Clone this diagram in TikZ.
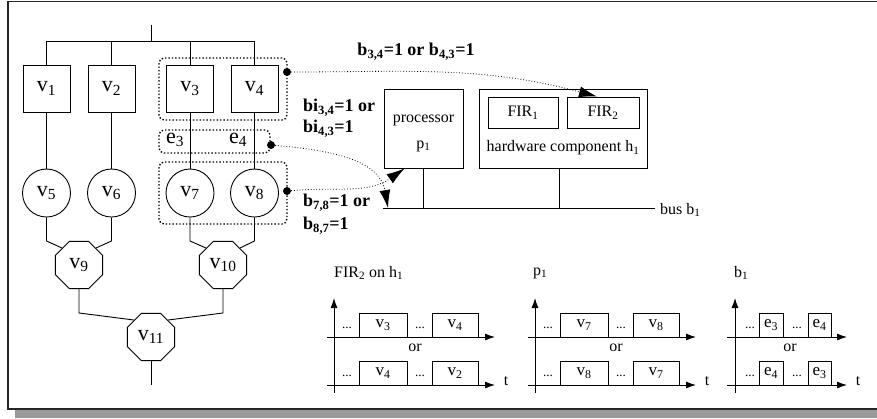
\documentclass[tikz,border=0pt]{standalone}
\usepackage{fontspec}
\setmainfont{Liberation Serif}
\usetikzlibrary{shapes.geometric,arrows.meta,calc}
\tikzset{
  tline/.style={line width=0.9pt},
  vfont/.style={font=\fontsize{22}{24}\selectfont},
  vbox/.style={draw, tline, vfont, minimum width=47pt, minimum height=47pt, inner sep=0pt},
  vcirc/.style={draw, tline, vfont, circle, minimum size=48pt, inner sep=0pt},
  voct/.style={draw, tline, vfont, regular polygon, regular polygon sides=8, minimum size=51pt, inner sep=0pt},
  grp/.style={draw, dotted, line width=1.4pt, rounded corners=5pt, inner sep=0pt},
  dotm/.style={circle, fill=black, inner sep=0pt, minimum size=8pt},
  darr/.style={dotted, line width=0.8pt, -{Latex[length=18pt,width=11pt]}},
  hwbox/.style={draw, tline, inner sep=0pt, font=\fontsize{16}{18}\selectfont},
  lbl/.style={font=\fontsize{18}{21}\selectfont\bfseries, align=left, inner sep=0pt},
  txt/.style={font=\fontsize{16}{18}\selectfont, inner sep=0pt},
  gbox/.style={draw, tline, inner sep=0pt, minimum height=24pt, font=\fontsize{17}{18}\selectfont},
  gdots/.style={font=\fontsize{13}{14}\selectfont, inner sep=0pt},
  gaxis/.style={tline, -{Latex[length=10pt,width=7pt]}},
}
\newcommand\sbs[1]{\textsubscript{#1}}
\begin{document}
\begin{tikzpicture}[x=1pt,y=-1pt]
\useasboundingbox (0,0) rectangle (877,418);
% frame with shadow
\fill[black!40] (15,410) rectangle (877,418);
\draw[line width=1.3pt, black!85] (877,1.5) -- (8,1.5) -- (8,409) -- (877,409);

% task graph
\coordinate (top) at (151,25);
\coordinate (topj) at (151,41);
\node[vbox] (v1) at (46.5,88.5) {v\sbs{1}};
\node[vbox] (v2) at (111.5,88.5) {v\sbs{2}};
\node[vbox] (v3) at (190,88.5) {v\sbs{3}};
\node[vbox] (v4) at (254.5,88.5) {v\sbs{4}};
\node[vcirc] (v5) at (46.5,193) {v\sbs{5}};
\node[vcirc] (v6) at (111.5,193) {v\sbs{6}};
\node[vcirc] (v7) at (190,193) {v\sbs{7}};
\node[vcirc] (v8) at (254.5,193) {v\sbs{8}};
\node[voct] (v9) at (79,265) {v\sbs{9}};
\node[voct] (v10) at (223,265) {v\sbs{10}};
\node[voct] (v11) at (151,337) {v\sbs{11}};
\coordinate (bot) at (151,385);

\draw[tline] (top) -- (topj);
\draw[tline] (v1.north) -- (v1.north |- topj) -- (v4.north |- topj) -- (v4.north);
\draw[tline] (v2.north) -- (v2.north |- topj);
\draw[tline] (v3.north) -- (v3.north |- topj);
\draw[tline] (v1) -- (v5);
\draw[tline] (v2) -- (v6);
\draw[tline] (v3) -- (v7);
\draw[tline] (v4) -- (v8);
\draw[tline] (v5.south) -- (v5.south |- v9.north) -- (v9.135);
\draw[tline] (v6.south) -- (v6.south |- v9.north) -- (v9.45);
\draw[tline] (v7.south) -- (v7.south |- v10.north) -- (v10.135);
\draw[tline] (v8.south) -- (v8.south |- v10.north) -- (v10.45);
\draw[tline] (v9.south) -- (v9.south |- v11.north) -- (v11.135);
\draw[tline] (v10.south) -- (v10.south |- v11.north) -- (v11.45);
\draw[tline] (v11) -- (bot);

% dotted groups
\node[grp, minimum width=128pt, minimum height=62pt] (g1) at (223,89) {};
\node[grp, minimum width=111pt, minimum height=23pt] (ge) at (214.5,141.5) {};
\node[grp, minimum width=128pt, minimum height=62pt] (g2) at (223,193) {};
\node[vfont, inner sep=0pt] (e3) at (175,140) {e\sbs{3}};
\node[vfont, inner sep=0pt] (e4) at (238,140) {e\sbs{4}};
\node[dotm] (d1) at (287,72) {};
\node[dotm] (d2) at (271,145) {};
\node[dotm] (d3) at (287,191) {};

% architecture
\node[hwbox, minimum width=79pt, minimum height=79pt] (proc) at (423.5,128.5) {};
\node[txt] (proctxt) at (423.5,120) {processor};
\node[txt] (p1txt) at (423.5,146) {p\sbs{1}};
\node[hwbox, minimum width=168pt, minimum height=79pt] (hw) at (563,128.5) {};
\node[hwbox, minimum width=70pt, minimum height=31pt] (fir1) at (523,112.5) {FIR\sbs{1}};
\node[hwbox, minimum width=72pt, minimum height=31pt] (fir2) at (603,112.5) {FIR\sbs{2}};
\node[txt] (hwtxt) at (563,148) {hardware component h\sbs{1}};
\coordinate (busL) at (383,208);
\coordinate (busR) at (655,208);
\draw[tline] (busL) -- (busR);
\node[txt, anchor=west] (bustxt) at (660,210) {bus b\sbs{1}};
\draw[tline] (proc.south) -- (proc.south |- busL);
\draw[tline] ([xshift=-4pt]hw.south) -- ([xshift=-4pt]hw.south |- busL);

% labels
\node[lbl] (l1) at (416,52) {b\sbs{3,4}=1 or b\sbs{4,3}=1};
\node[lbl, anchor=west] (l2) at (303,118) {bi\sbs{3,4}=1 or\\bi\sbs{4,3}=1};
\node[lbl, anchor=west] (l3) at (303,214) {b\sbs{7,8}=1 or\\[2pt]b\sbs{8,7}=1};

% dotted arrows
\draw[darr] (d1) to[out=0,in=165] ([xshift=-6pt]fir2.north);
\draw[darr] (d2) to[out=-5,in=100] ([xshift=5pt]busL);
\draw[darr] (d3) to[out=5,in=215] ([xshift=21pt]proc.south west);

% Gantt 1
\node[txt, anchor=west] (t1) at (334,273) {FIR\sbs{2} on h\sbs{1}};
\draw[gaxis] (334,393) -- (334,298);
\draw[gaxis] (327,337) -- (495,337);
\draw[gaxis] (327,385) -- (495,385);
\node[txt] at (506,381) {t};
\node[gbox, minimum width=48pt] at (383,325) {v\sbs{3}};
\node[gbox, minimum width=46pt] at (455,325) {v\sbs{4}};
\node[gbox, minimum width=48pt] at (383,373) {v\sbs{4}};
\node[gbox, minimum width=46pt] at (455,373) {v\sbs{2}};
\node[gdots] at (347,328) {...};
\node[gdots] at (420,328) {...};
\node[gdots] at (347,376) {...};
\node[gdots] at (420,376) {...};
\node[txt] at (415,348) {or};

% Gantt 2
\node[txt, anchor=west] (t2) at (533,273) {p\sbs{1}};
\draw[gaxis] (535,393) -- (535,298);
\draw[gaxis] (528,337) -- (696,337);
\draw[gaxis] (528,385) -- (696,385);
\node[txt] at (707,381) {t};
\node[gbox, minimum width=48pt] at (584,325) {v\sbs{7}};
\node[gbox, minimum width=46pt] at (656,325) {v\sbs{8}};
\node[gbox, minimum width=48pt] at (584,373) {v\sbs{8}};
\node[gbox, minimum width=46pt] at (656,373) {v\sbs{7}};
\node[gdots] at (548,328) {...};
\node[gdots] at (621,328) {...};
\node[gdots] at (548,376) {...};
\node[gdots] at (621,376) {...};
\node[txt] at (616,348) {or};

% Gantt 3
\node[txt, anchor=west] (t3) at (734,273) {b\sbs{1}};
\draw[gaxis] (735,393) -- (735,298);
\draw[gaxis] (727,337) -- (847,337);
\draw[gaxis] (727,385) -- (847,385);
\node[txt] at (858,381) {t};
\node[gbox, minimum width=24pt] at (771,325) {e\sbs{3}};
\node[gbox, minimum width=23pt] at (819.5,325) {e\sbs{4}};
\node[gbox, minimum width=24pt] at (771,373) {e\sbs{4}};
\node[gbox, minimum width=23pt] at (819.5,373) {e\sbs{3}};
\node[gdots] at (750,328) {...};
\node[gdots] at (797,328) {...};
\node[gdots] at (750,376) {...};
\node[gdots] at (797,376) {...};
\node[txt] at (790,348) {or};
\end{tikzpicture}
\end{document}
